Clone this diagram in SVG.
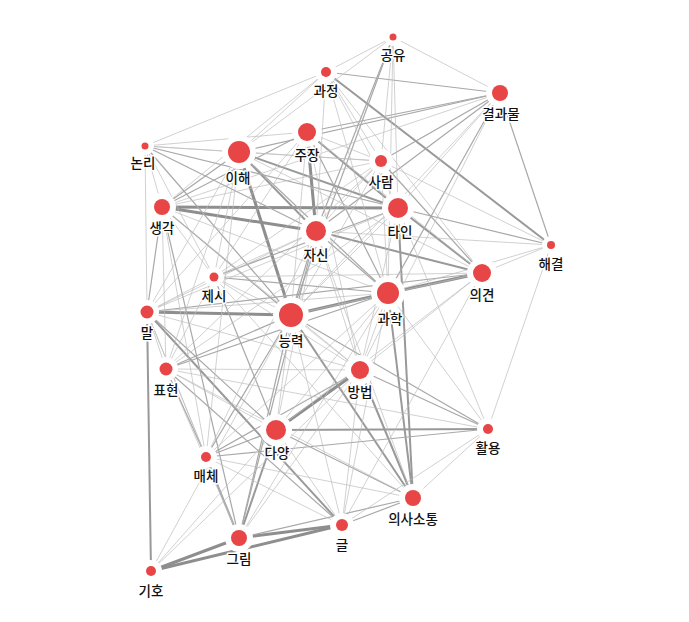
<svg xmlns="http://www.w3.org/2000/svg" width="689" height="622" viewBox="0 0 689 622">
<style>
.e1{stroke:#bdbdbd;stroke-width:0.7}
.e2{stroke:#a8a8a8;stroke-width:1.2}
.e3{stroke:#999;stroke-width:2}
.e4{stroke:#8e8e8e;stroke-width:3}
.halo{fill:#fff}
.n{fill:#e84646}
text{font-family:"Noto Sans CJK KR","Noto Sans",sans-serif;font-size:13.5px;font-weight:500;fill:#111;text-anchor:middle;stroke:#fff;stroke-width:3;paint-order:stroke;stroke-linejoin:round}
</style>
<rect width="689" height="622" fill="#fff"/>
<g id="edges" fill="none">
<line class="e4" x1="162" y1="207" x2="398" y2="208"/>
<line class="e4" x1="162" y1="207" x2="316" y2="231"/>
<line class="e4" x1="239" y1="152" x2="291" y2="315"/>
<line class="e4" x1="307" y1="132" x2="316" y2="231"/>
<line class="e4" x1="291" y1="315" x2="388" y2="293"/>
<line class="e4" x1="388" y1="293" x2="482" y2="273"/>
<line class="e4" x1="147" y1="312" x2="291" y2="315"/>
<line class="e4" x1="239" y1="538" x2="342" y2="525"/>
<line class="e4" x1="151" y1="571" x2="342" y2="525"/>
<line class="e4" x1="151" y1="571" x2="239" y2="538"/>
<line class="e4" x1="276" y1="430" x2="360" y2="370"/>
<line class="e3" x1="291" y1="315" x2="413" y2="498"/>
<line class="e3" x1="147" y1="312" x2="342" y2="525"/>
<line class="e3" x1="147" y1="312" x2="151" y2="571"/>
<line class="e3" x1="316" y1="231" x2="482" y2="273"/>
<line class="e3" x1="326" y1="72" x2="551" y2="245"/>
<line class="e3" x1="360" y1="370" x2="413" y2="498"/>
<line class="e3" x1="388" y1="293" x2="413" y2="498"/>
<line class="e3" x1="276" y1="430" x2="239" y2="538"/>
<line class="e3" x1="398" y1="208" x2="482" y2="273"/>
<line class="e3" x1="239" y1="152" x2="398" y2="208"/>
<line class="e3" x1="239" y1="152" x2="316" y2="231"/>
<line class="e3" x1="307" y1="132" x2="398" y2="208"/>
<line class="e3" x1="398" y1="208" x2="413" y2="498"/>
<line class="e3" x1="276" y1="430" x2="488" y2="429"/>
<line class="e2" x1="276" y1="430" x2="413" y2="498"/>
<line class="e3" x1="206" y1="457" x2="239" y2="538"/>
<line class="e2" x1="307" y1="132" x2="388" y2="293"/>
<line class="e2" x1="500" y1="93" x2="307" y2="132"/>
<line class="e2" x1="500" y1="93" x2="316" y2="231"/>
<line class="e2" x1="500" y1="93" x2="551" y2="245"/>
<line class="e2" x1="145" y1="146" x2="398" y2="208"/>
<line class="e2" x1="206" y1="457" x2="276" y2="430"/>
<line class="e2" x1="166" y1="369" x2="206" y2="457"/>
<line class="e2" x1="166" y1="369" x2="342" y2="525"/>
<line class="e2" x1="147" y1="312" x2="276" y2="430"/>
<line class="e2" x1="316" y1="231" x2="388" y2="293"/>
<line class="e2" x1="381" y1="161" x2="500" y2="93"/>
<line class="e2" x1="398" y1="208" x2="551" y2="245"/>
<line class="e2" x1="381" y1="161" x2="482" y2="273"/>
<line class="e2" x1="214" y1="277" x2="388" y2="293"/>
<line class="e2" x1="206" y1="457" x2="488" y2="429"/>
<line class="e2" x1="162" y1="207" x2="291" y2="315"/>
<line class="e2" x1="239" y1="152" x2="162" y2="207"/>
<line class="e2" x1="316" y1="231" x2="291" y2="315"/>
<line class="e2" x1="342" y1="525" x2="413" y2="498"/>
<line class="e2" x1="239" y1="538" x2="413" y2="498"/>
<line class="e2" x1="326" y1="72" x2="500" y2="93"/>
<line class="e2" x1="239" y1="152" x2="388" y2="293"/>
<line class="e2" x1="145" y1="146" x2="316" y2="231"/>
<line class="e2" x1="145" y1="146" x2="291" y2="315"/>
<line class="e2" x1="162" y1="207" x2="147" y2="312"/>
<line class="e2" x1="166" y1="369" x2="291" y2="315"/>
<line class="e2" x1="166" y1="369" x2="388" y2="293"/>
<line class="e2" x1="206" y1="457" x2="360" y2="370"/>
<line class="e2" x1="206" y1="457" x2="291" y2="315"/>
<line class="e2" x1="239" y1="538" x2="291" y2="315"/>
<line class="e2" x1="239" y1="538" x2="316" y2="231"/>
<line class="e2" x1="162" y1="207" x2="239" y2="538"/>
<line class="e2" x1="500" y1="93" x2="388" y2="293"/>
<line class="e2" x1="500" y1="93" x2="239" y2="152"/>
<line class="e2" x1="393" y1="37" x2="316" y2="231"/>
<line class="e2" x1="393" y1="37" x2="291" y2="315"/>
<line class="e2" x1="147" y1="312" x2="482" y2="273"/>
<line class="e2" x1="291" y1="315" x2="488" y2="429"/>
<line class="e2" x1="360" y1="370" x2="488" y2="429"/>
<line class="e2" x1="214" y1="277" x2="276" y2="430"/>
<line class="e2" x1="214" y1="277" x2="398" y2="208"/>
<line class="e2" x1="162" y1="207" x2="307" y2="132"/>
<line class="e1" x1="393" y1="37" x2="326" y2="72"/>
<line class="e1" x1="393" y1="37" x2="500" y2="93"/>
<line class="e1" x1="393" y1="37" x2="381" y2="161"/>
<line class="e1" x1="393" y1="37" x2="388" y2="293"/>
<line class="e1" x1="393" y1="37" x2="239" y2="152"/>
<line class="e1" x1="393" y1="37" x2="398" y2="208"/>
<line class="e1" x1="326" y1="72" x2="239" y2="152"/>
<line class="e1" x1="326" y1="72" x2="145" y2="146"/>
<line class="e1" x1="326" y1="72" x2="398" y2="208"/>
<line class="e1" x1="326" y1="72" x2="388" y2="293"/>
<line class="e1" x1="326" y1="72" x2="482" y2="273"/>
<line class="e1" x1="326" y1="72" x2="316" y2="231"/>
<line class="e1" x1="326" y1="72" x2="162" y2="207"/>
<line class="e1" x1="326" y1="72" x2="381" y2="161"/>
<line class="e1" x1="145" y1="146" x2="307" y2="132"/>
<line class="e1" x1="145" y1="146" x2="239" y2="152"/>
<line class="e1" x1="145" y1="146" x2="162" y2="207"/>
<line class="e1" x1="145" y1="146" x2="147" y2="312"/>
<line class="e1" x1="145" y1="146" x2="214" y2="277"/>
<line class="e1" x1="145" y1="146" x2="381" y2="161"/>
<line class="e1" x1="239" y1="152" x2="381" y2="161"/>
<line class="e1" x1="239" y1="152" x2="147" y2="312"/>
<line class="e1" x1="239" y1="152" x2="166" y2="369"/>
<line class="e1" x1="239" y1="152" x2="214" y2="277"/>
<line class="e1" x1="239" y1="152" x2="482" y2="273"/>
<line class="e1" x1="239" y1="152" x2="206" y2="457"/>
<line class="e1" x1="307" y1="132" x2="214" y2="277"/>
<line class="e1" x1="307" y1="132" x2="147" y2="312"/>
<line class="e1" x1="307" y1="132" x2="291" y2="315"/>
<line class="e1" x1="307" y1="132" x2="482" y2="273"/>
<line class="e1" x1="307" y1="132" x2="360" y2="370"/>
<line class="e1" x1="307" y1="132" x2="381" y2="161"/>
<line class="e1" x1="381" y1="161" x2="162" y2="207"/>
<line class="e1" x1="381" y1="161" x2="316" y2="231"/>
<line class="e1" x1="381" y1="161" x2="551" y2="245"/>
<line class="e1" x1="381" y1="161" x2="291" y2="315"/>
<line class="e1" x1="381" y1="161" x2="388" y2="293"/>
<line class="e1" x1="381" y1="161" x2="214" y2="277"/>
<line class="e1" x1="381" y1="161" x2="166" y2="369"/>
<line class="e1" x1="500" y1="93" x2="398" y2="208"/>
<line class="e1" x1="500" y1="93" x2="291" y2="315"/>
<line class="e1" x1="500" y1="93" x2="162" y2="207"/>
<line class="e1" x1="500" y1="93" x2="360" y2="370"/>
<line class="e1" x1="162" y1="207" x2="388" y2="293"/>
<line class="e1" x1="162" y1="207" x2="214" y2="277"/>
<line class="e1" x1="162" y1="207" x2="166" y2="369"/>
<line class="e1" x1="162" y1="207" x2="360" y2="370"/>
<line class="e1" x1="162" y1="207" x2="206" y2="457"/>
<line class="e1" x1="398" y1="208" x2="291" y2="315"/>
<line class="e1" x1="398" y1="208" x2="147" y2="312"/>
<line class="e1" x1="398" y1="208" x2="360" y2="370"/>
<line class="e1" x1="398" y1="208" x2="166" y2="369"/>
<line class="e1" x1="398" y1="208" x2="488" y2="429"/>
<line class="e1" x1="316" y1="231" x2="551" y2="245"/>
<line class="e1" x1="316" y1="231" x2="214" y2="277"/>
<line class="e1" x1="316" y1="231" x2="147" y2="312"/>
<line class="e1" x1="316" y1="231" x2="360" y2="370"/>
<line class="e1" x1="316" y1="231" x2="276" y2="430"/>
<line class="e1" x1="316" y1="231" x2="206" y2="457"/>
<line class="e1" x1="316" y1="231" x2="413" y2="498"/>
<line class="e1" x1="551" y1="245" x2="482" y2="273"/>
<line class="e1" x1="551" y1="245" x2="488" y2="429"/>
<line class="e1" x1="551" y1="245" x2="388" y2="293"/>
<line class="e1" x1="482" y1="273" x2="276" y2="430"/>
<line class="e1" x1="482" y1="273" x2="291" y2="315"/>
<line class="e1" x1="482" y1="273" x2="214" y2="277"/>
<line class="e1" x1="482" y1="273" x2="342" y2="525"/>
<line class="e1" x1="482" y1="273" x2="360" y2="370"/>
<line class="e1" x1="214" y1="277" x2="147" y2="312"/>
<line class="e1" x1="214" y1="277" x2="291" y2="315"/>
<line class="e1" x1="214" y1="277" x2="360" y2="370"/>
<line class="e1" x1="214" y1="277" x2="166" y2="369"/>
<line class="e1" x1="214" y1="277" x2="413" y2="498"/>
<line class="e1" x1="388" y1="293" x2="147" y2="312"/>
<line class="e1" x1="388" y1="293" x2="360" y2="370"/>
<line class="e1" x1="388" y1="293" x2="488" y2="429"/>
<line class="e1" x1="388" y1="293" x2="276" y2="430"/>
<line class="e1" x1="388" y1="293" x2="206" y2="457"/>
<line class="e1" x1="388" y1="293" x2="342" y2="525"/>
<line class="e1" x1="147" y1="312" x2="166" y2="369"/>
<line class="e1" x1="147" y1="312" x2="206" y2="457"/>
<line class="e1" x1="147" y1="312" x2="360" y2="370"/>
<line class="e1" x1="147" y1="312" x2="239" y2="538"/>
<line class="e1" x1="291" y1="315" x2="360" y2="370"/>
<line class="e1" x1="291" y1="315" x2="276" y2="430"/>
<line class="e1" x1="291" y1="315" x2="342" y2="525"/>
<line class="e1" x1="291" y1="315" x2="151" y2="571"/>
<line class="e1" x1="166" y1="369" x2="360" y2="370"/>
<line class="e1" x1="166" y1="369" x2="276" y2="430"/>
<line class="e1" x1="166" y1="369" x2="239" y2="538"/>
<line class="e1" x1="166" y1="369" x2="413" y2="498"/>
<line class="e1" x1="166" y1="369" x2="488" y2="429"/>
<line class="e1" x1="360" y1="370" x2="342" y2="525"/>
<line class="e1" x1="360" y1="370" x2="239" y2="538"/>
<line class="e1" x1="360" y1="370" x2="151" y2="571"/>
<line class="e1" x1="276" y1="430" x2="342" y2="525"/>
<line class="e1" x1="488" y1="429" x2="413" y2="498"/>
<line class="e1" x1="488" y1="429" x2="342" y2="525"/>
<line class="e1" x1="206" y1="457" x2="413" y2="498"/>
<line class="e1" x1="206" y1="457" x2="342" y2="525"/>
<line class="e1" x1="276" y1="430" x2="151" y2="571"/>
<line class="e1" x1="239" y1="538" x2="388" y2="293"/>
</g>
<g id="halos">
<circle class="halo" cx="393" cy="37" r="9"/>
<circle class="halo" cx="326" cy="72" r="11"/>
<circle class="halo" cx="500" cy="93" r="14"/>
<circle class="halo" cx="307" cy="132" r="15"/>
<circle class="halo" cx="145" cy="146" r="9"/>
<circle class="halo" cx="239" cy="152" r="17"/>
<circle class="halo" cx="381" cy="161" r="12"/>
<circle class="halo" cx="162" cy="207" r="14"/>
<circle class="halo" cx="398" cy="208" r="16"/>
<circle class="halo" cx="316" cy="231" r="16"/>
<circle class="halo" cx="551" cy="245" r="9"/>
<circle class="halo" cx="482" cy="273" r="15"/>
<circle class="halo" cx="214" cy="277" r="10"/>
<circle class="halo" cx="388" cy="293" r="17"/>
<circle class="halo" cx="147" cy="312" r="12"/>
<circle class="halo" cx="291" cy="315" r="18"/>
<circle class="halo" cx="166" cy="369" r="12"/>
<circle class="halo" cx="360" cy="370" r="15"/>
<circle class="halo" cx="276" cy="430" r="16"/>
<circle class="halo" cx="488" cy="429" r="11"/>
<circle class="halo" cx="206" cy="457" r="11"/>
<circle class="halo" cx="413" cy="498" r="14"/>
<circle class="halo" cx="342" cy="525" r="12"/>
<circle class="halo" cx="239" cy="538" r="14"/>
<circle class="halo" cx="151" cy="571" r="11"/>
</g>
<g id="n-gongyu"><circle class="n" cx="393" cy="37" r="3.5"/><text x="393" y="60">공유</text></g>
<g id="n-gwajeong"><circle class="n" cx="326" cy="72" r="5"/><text x="326" y="96">과정</text></g>
<g id="n-gyeolgwamul"><circle class="n" cx="500" cy="93" r="8"/><text x="501" y="119">결과물</text></g>
<g id="n-jujang"><circle class="n" cx="307" cy="132" r="9"/><text x="307" y="160">주장</text></g>
<g id="n-nonri"><circle class="n" cx="145" cy="146" r="3.5"/><text x="143" y="168">논리</text></g>
<g id="n-ihae"><circle class="n" cx="239" cy="152" r="11"/><text x="238" y="183">이해</text></g>
<g id="n-saram"><circle class="n" cx="381" cy="161" r="6"/><text x="381" y="187">사람</text></g>
<g id="n-saenggak"><circle class="n" cx="162" cy="207" r="8"/><text x="162" y="233">생각</text></g>
<g id="n-tain"><circle class="n" cx="398" cy="208" r="10"/><text x="400" y="237">타인</text></g>
<g id="n-jasin"><circle class="n" cx="316" cy="231" r="10"/><text x="316" y="260">자신</text></g>
<g id="n-haegyeol"><circle class="n" cx="551" cy="245" r="4"/><text x="551" y="269">해결</text></g>
<g id="n-uigyeon"><circle class="n" cx="482" cy="273" r="9"/><text x="482" y="300">의견</text></g>
<g id="n-jesi"><circle class="n" cx="214" cy="277" r="4.5"/><text x="214" y="301">제시</text></g>
<g id="n-gwahak"><circle class="n" cx="388" cy="293" r="11"/><text x="390" y="324">과학</text></g>
<g id="n-mal"><circle class="n" cx="147" cy="312" r="6.5"/><text x="147" y="338">말</text></g>
<g id="n-neungnyeok"><circle class="n" cx="291" cy="315" r="12"/><text x="291" y="346">능력</text></g>
<g id="n-pyohyeon"><circle class="n" cx="166" cy="369" r="6.5"/><text x="166" y="395">표현</text></g>
<g id="n-bangbeop"><circle class="n" cx="360" cy="370" r="9"/><text x="360" y="397">방법</text></g>
<g id="n-dayang"><circle class="n" cx="276" cy="430" r="10"/><text x="277" y="458">다양</text></g>
<g id="n-hwaryong"><circle class="n" cx="488" cy="429" r="5"/><text x="488" y="453">활용</text></g>
<g id="n-maeche"><circle class="n" cx="206" cy="457" r="5"/><text x="206" y="481">매체</text></g>
<g id="n-uisasotong"><circle class="n" cx="413" cy="498" r="8"/><text x="413" y="524">의사소통</text></g>
<g id="n-geul"><circle class="n" cx="342" cy="525" r="6"/><text x="342" y="550">글</text></g>
<g id="n-geurim"><circle class="n" cx="239" cy="538" r="8"/><text x="239" y="564">그림</text></g>
<g id="n-giho"><circle class="n" cx="151" cy="571" r="5"/><text x="151" y="596">기호</text></g>
</svg>
